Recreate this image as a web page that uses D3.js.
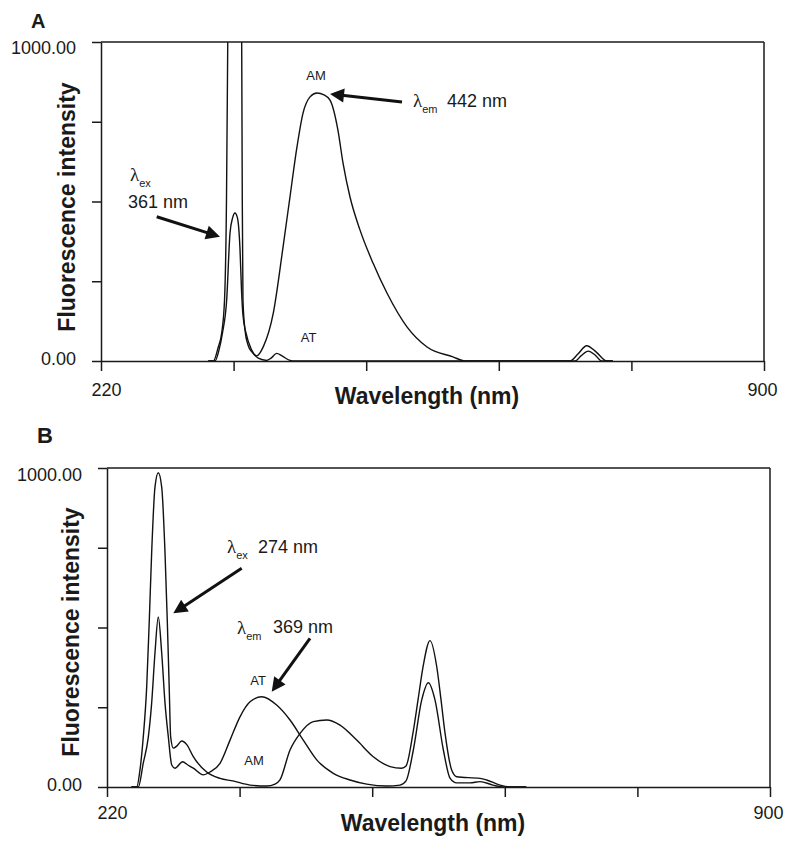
<!DOCTYPE html>
<html><head><meta charset="utf-8">
<script src="https://cdn.jsdelivr.net/npm/d3@7"></script>
<style>
body{margin:0;background:#fff}
svg{display:block}
text{font-family:"Liberation Sans",Arial,sans-serif;fill:#1a1a1a}
</style>
</head><body>
<svg id="c" width="795" height="849"></svg>
<script>
// ---------- DATA ----------
const xDomain = [220, 900];
const yDomain = [0, 1000];
const xTicks = [220, 356, 492, 628, 764, 900];
const xTickLabels = {220: "220", 900: "900"};
const yTicks = [0, 250, 500, 750, 1000];
const yTickLabels = {0: "0.00", 1000: "1000.00"};

// Panel A (excitation 361 nm)
const aAM_wl  = [330, 335.2, 340.3, 343.8, 346.7, 348.7, 350, 357.2, 364.3, 364.9, 365.6, 367.7, 370.8, 374.9, 379.7, 386.5, 396.7, 406.7, 413.8, 421, 427.2, 434.4, 441.5, 448.7, 454.9, 463, 468.2, 475.4, 485.6, 499, 513.3, 533.8, 554.4, 581, 593.3, 701, 709.2, 718.1, 728, 738.7, 745];
const aAM_int = [0, 0, 44, 88, 191, 505, 1000, 3000, 1000, 505, 191, 97, 50, 28, 16, 45, 150, 357, 514, 671, 777, 828, 840, 834, 818, 724, 621, 514, 411, 307, 213, 107, 44, 13, 0, 0, 22, 48, 28, 0, 0];
const aAT_wl  = [330, 336.9, 341, 344.6, 348.9, 352.3, 354.9, 357.4, 360, 362.6, 364.1, 365.6, 368.7, 374.6, 381.3, 390, 394.4, 400.2, 405.6, 413.8, 419, 706.2, 712.3, 719.8, 726.7, 733.5, 745];
const aAT_int = [0, 0, 34, 88, 191, 401, 448, 464, 448, 348, 223, 144, 88, 34, 9, 2, 9, 24, 16, 2, 0, 0, 16, 31, 19, 0, 0];

// Panel B (excitation 274 nm)
const bAM_wl  = [245, 250.5, 253.8, 257.2, 260.7, 263.4, 265.8, 269.2, 272.6, 276.1, 279.5, 281.8, 283.8, 285.3, 288, 291.8, 296.6, 302, 308.5, 322.2, 335.9, 349.2, 366.7, 383.8, 392.3, 397.4, 407.7, 418, 431.6, 445.3, 459, 476.1, 493.1, 510.3, 522.2, 526.7, 533.8, 539, 544.1, 551.3, 558.2, 562.6, 566.7, 573.5, 578.7, 602.6, 609.4, 623.1, 636.4, 650];
const bAM_int = [0, 0, 53, 157, 313, 524, 734, 940, 985, 940, 734, 524, 313, 157, 122, 129, 144, 132, 95, 47, 27, 19, 6, 3, 9, 22, 116, 168, 205, 210, 194, 147, 95, 64, 59, 66, 169, 273, 376, 459, 377, 273, 169, 53, 32, 27, 22, 6, 0, 0];
const bAT_wl  = [245, 252.1, 257.2, 262.4, 265.8, 269.2, 272.6, 276.1, 279.5, 282.9, 286.4, 289.7, 297.5, 303, 308.5, 318.8, 325.6, 335.9, 346.2, 356.4, 366.7, 378.7, 394, 407.7, 421.3, 435.1, 452.1, 469.2, 486.4, 506.9, 520.5, 526.7, 534.2, 542.8, 549.6, 556.4, 565, 571.8, 578.7, 592.3, 602.6, 615.9, 626.2, 650];
const bAT_int = [0, 0, 75, 157, 263, 420, 533, 420, 263, 157, 69, 59, 79, 69, 59, 38, 47, 74, 147, 220, 267, 283, 257, 210, 147, 85, 43, 22, 9, 3, 6, 19, 116, 273, 327, 273, 116, 28, 13, 13, 17, 6, 0, 0];

// ---------- DRAW ----------
const svg = d3.select("#c");
const zip = (a, b) => a.map((v, i) => [v, b[i]]);

function panel(cfg) {
  const W = cfg.right - cfg.left, H = cfg.bottom - cfg.top;
  const x = d3.scaleLinear().domain(xDomain).range([0, W]);
  const y = d3.scaleLinear().domain(yDomain).range([H, 0]);
  const g = svg.append("g").attr("transform", `translate(${cfg.left},${cfg.top})`);

  svg.append("defs").append("clipPath").attr("id", "clip" + cfg.id)
    .append("rect").attr("x", 0).attr("y", 0).attr("width", W).attr("height", H);

  const line = d3.line().x(d => x(d[0])).y(d => y(d[1])).curve(d3.curveMonotoneX);
  const cg = g.append("g").attr("clip-path", `url(#clip${cfg.id})`);
  cfg.series.forEach(s => {
    cg.append("path").datum(zip(s[0], s[1]))
      .attr("d", line).attr("fill", "none").attr("stroke", "#111").attr("stroke-width", 1.4)
      .attr("stroke-linejoin", "round");
  });

  // frame (top & right)
  g.append("line").attr("x1", 0).attr("x2", W).attr("y1", 0).attr("y2", 0)
    .attr("stroke", "#1a1a1a").attr("stroke-width", 1.5);
  g.append("line").attr("x1", W).attr("x2", W).attr("y1", 0).attr("y2", H)
    .attr("stroke", "#1a1a1a").attr("stroke-width", 1.5);

  // y axis
  const ya = g.append("g").attr("color", "#1a1a1a")
    .call(d3.axisLeft(y).tickValues(yTicks).tickSize(9).tickSizeOuter(0).tickPadding(16)
      .tickFormat(d => yTickLabels[d] || ""));
  ya.selectAll("path,line").attr("stroke-width", 1.5);
  ya.selectAll("text").attr("font-size", 18).attr("fill", "#1a1a1a")
    .attr("font-family", '"Liberation Sans",Arial,sans-serif')
    .attr("transform", d => d === 1000 ? `translate(0,${cfg.topLabelShift})` : (d === 0 ? "translate(0,-2)" : null));

  // x axis
  const xa = g.append("g").attr("transform", `translate(0,${H})`).attr("color", "#1a1a1a")
    .call(d3.axisBottom(x).tickValues(xTicks).tickSize(10).tickSizeOuter(0).tickPadding(cfg.xPad)
      .tickFormat(d => xTickLabels[d] || ""));
  xa.selectAll("path,line").attr("stroke-width", 1.5);
  xa.selectAll("text").attr("font-size", 18).attr("fill", "#1a1a1a")
    .attr("font-family", '"Liberation Sans",Arial,sans-serif')
    .attr("dx", d => d === 220 ? 5 : (d === 900 ? -2 : 0));

  // axis titles
  svg.append("text").attr("x", cfg.xTitle[0]).attr("y", cfg.xTitle[1]).attr("text-anchor", "middle")
    .attr("font-size", 23).attr("font-weight", "bold").text("Wavelength (nm)");
  svg.append("text").attr("transform", `translate(${cfg.yTitle[0]},${cfg.yTitle[1]}) rotate(-90)`)
    .attr("text-anchor", "middle").attr("font-size", 23).attr("font-weight", "bold")
    .text("Fluorescence intensity");
  svg.append("text").attr("x", cfg.letter[0]).attr("y", cfg.letter[1])
    .attr("font-size", cfg.letter[2]).attr("font-weight", "bold").text(cfg.id);

  // annotations
  const ann = g.append("g");
  cfg.labels.forEach(l => {
    ann.append("text").attr("x", l[1]).attr("y", l[2]).attr("text-anchor", "middle")
      .attr("font-size", 13).text(l[0]);
  });
  cfg.lambdas.forEach(l => {
    const t = ann.append("text").attr("x", l.x).attr("y", l.y).attr("font-size", 18);
    t.append("tspan").attr("font-family", '"Liberation Serif","Times New Roman",serif')
      .attr("font-size", 19).text("λ");
    t.append("tspan").attr("font-size", 11).attr("dy", 6).text(l.sub);
  });
  cfg.values.forEach(v => {
    ann.append("text").attr("x", v[1]).attr("y", v[2]).attr("font-size", 18).text(v[0]);
  });
  cfg.arrows.forEach(a => {
    const [x1, y1, x2, y2] = a;
    const ang = Math.atan2(y2 - y1, x2 - x1);
    const hl = 14, hw = 7;
    const bx = x2 - hl * Math.cos(ang), by = y2 - hl * Math.sin(ang);
    ann.append("line").attr("x1", x1).attr("y1", y1).attr("x2", bx + 2 * Math.cos(ang)).attr("y2", by + 2 * Math.sin(ang))
      .attr("stroke", "#111").attr("stroke-width", 3);
    ann.append("polygon").attr("fill", "#111").attr("points", [
      [x2, y2],
      [bx - hw * Math.sin(ang), by + hw * Math.cos(ang)],
      [bx + hw * Math.sin(ang), by - hw * Math.cos(ang)]
    ].map(p => p.join(",")).join(" "));
  });
}

panel({
  id: "A", left: 101, right: 764, top: 42, bottom: 361,
  series: [[aAM_wl, aAM_int], [aAT_wl, aAT_int]],
  topLabelShift: 6, xPad: 12,
  xTitle: [427, 404], yTitle: [75, 207], letter: [31, 28, 20],
  labels: [["AM", 215, 38], ["AT", 207.5, 300]],
  lambdas: [{x: 312, y: 65, sub: "em"}, {x: 29, y: 139, sub: "ex"}],
  values: [["442 nm", 346, 65], ["361 nm", 27, 166]],
  arrows: [[301, 60, 229, 52], [55.7, 174.7, 119, 194.7]]
});

panel({
  id: "B", left: 107, right: 770, top: 468, bottom: 787,
  series: [[bAM_wl, bAM_int], [bAT_wl, bAT_int]],
  topLabelShift: 7, xPad: 9,
  xTitle: [433, 831], yTitle: [79, 632], letter: [37, 443, 22],
  labels: [["AT", 151, 217], ["AM", 147, 297]],
  lambdas: [{x: 120, y: 85, sub: "ex"}, {x: 130, y: 166, sub: "em"}],
  values: [["274 nm", 151, 85], ["369 nm", 166, 165]],
  arrows: [[134.7, 100.3, 66.3, 145.3], [203, 170.3, 164.7, 223.7]]
});
</script>
</body></html>
